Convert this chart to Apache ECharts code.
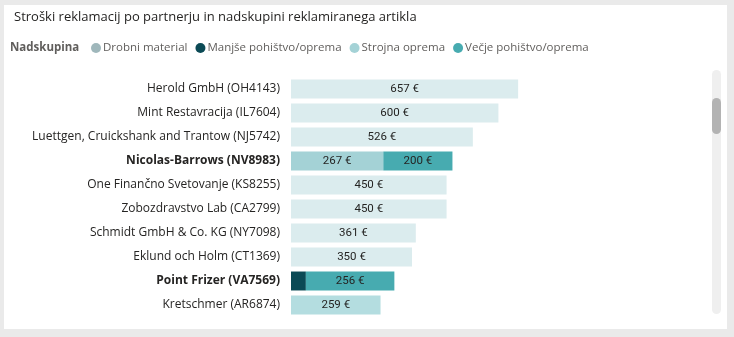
<!DOCTYPE html>
<html><head><meta charset="utf-8">
<script src="https://cdn.jsdelivr.net/npm/echarts@6/dist/echarts.min.js"></script>
<style>html,body{margin:0;padding:0;background:#eaeaea}#c{width:734px;height:337px}</style>
</head><body><div id="c"></div>
<script>
const partners = ['Herold GmbH (OH4143)','Mint Restavracija (IL7604)','Luettgen, Cruickshank and Trantow (NJ5742)','Nicolas-Barrows (NV8983)','One Finančno Svetovanje (KS8255)','Zobozdravstvo Lab (CA2799)','Schmidt GmbH & Co. KG (NY7098)','Eklund och Holm (CT1369)','Point Frizer (VA7569)','Kretschmer (AR6874)'];
const groups = ['Drobni material','Manjše pohištvo/oprema','Strojna oprema','Večje pohištvo/oprema'];
const drobniMaterial = [null,null,null,null,null,null,null,null,null,null];
const manjsePohistvo = [null,null,null,null,null,null,null,null,43,null];
const strojnaOprema = [657,600,526,267,450,450,361,350,null,259];
const vecjePohistvo = [null,null,null,200,null,null,null,null,256,null];
const highlighted = ['Nicolas-Barrows (NV8983)','Point Frizer (VA7569)'];
const legendTitle = 'Nadskupina';
const chartTitle = 'Stroški reklamacij po partnerju in nadskupini reklamiranega artikla';

const colors = ['#9fb7bb','#0b4a55','#a4d2d6','#47abb0'];
const seriesValues = [drobniMaterial, manjsePohistvo, strojnaOprema, vecjePohistvo];

function itemColor(gi, pi){
  const name = partners[pi];
  if (highlighted.indexOf(name) >= 0) return colors[gi];
  if (name.indexOf('Kretschmer') === 0) return '#b4dde0';
  return '#dbecee';
}

const chart = echarts.init(document.getElementById('c'));
chart.setOption({
  backgroundColor: '#eaeaea',
  animation: false,
  color: colors,
  title: {
    text: chartTitle, left: 9, top: 6,
    textStyle: {fontFamily: 'Open Sans', fontSize: 13, fontWeight: 'normal', color: '#252423'}
  },
  legend: {
    left: 86, top: 37, icon: 'circle', itemWidth: 10, itemHeight: 10, itemGap: 8,
    data: groups,
    textStyle: {fontFamily: 'Open Sans', fontSize: 11.5, color: '#605e5c', padding: [0,0,0,-3]}
  },
  graphic: [
    {type:'rect', z:-10, silent:true, shape:{x:4,y:5,width:723,height:324}, style:{fill:'#ffffff'}},
    {type:'text', left: 10, top: 42, style:{text: legendTitle, font:'bold 11.5px "Open Sans"', fill:'#605e5c'}},
    {type:'rect', silent:true, shape:{x:712,y:70,width:9,height:244,r:4.5}, style:{fill:'#efefef'}},
    {type:'rect', silent:true, shape:{x:712,y:98,width:9,height:36,r:4.5}, style:{fill:'#b3b3b3'}}
  ],
  grid: {left: 291, top: 77, width: 242, height: 240},
  xAxis: {type:'value', min:0, max:700, show:false},
  yAxis: {
    type:'category', data: partners, inverse: true,
    axisLine:{show:false}, axisTick:{show:false},
    axisLabel:{
      margin: 11,
      formatter: v => highlighted.indexOf(v) >= 0 ? '{b|' + v + '}' : '{n|' + v + '}',
      rich: {
        n: {fontFamily:'Open Sans', fontSize: 12, color:'#252423'},
        b: {fontFamily:'Open Sans', fontSize: 12, fontWeight:'bold', color:'#252423'}
      }
    }
  },
  series: groups.map((g, gi) => ({
    name: g, type:'bar', stack:'total', barCategoryGap: '21%',
    data: seriesValues[gi].map((v, pi) => v == null ? null : ({value: v, itemStyle:{color: itemColor(gi, pi)}})),
    label: {
      show: true, position: 'inside',
      formatter: p => (p.value == null || p.value < 60) ? '' : p.value + ' €',
      fontFamily: 'Roboto', fontSize: 11.5, color: '#252423'
    }
  }))
});
</script></body></html>
